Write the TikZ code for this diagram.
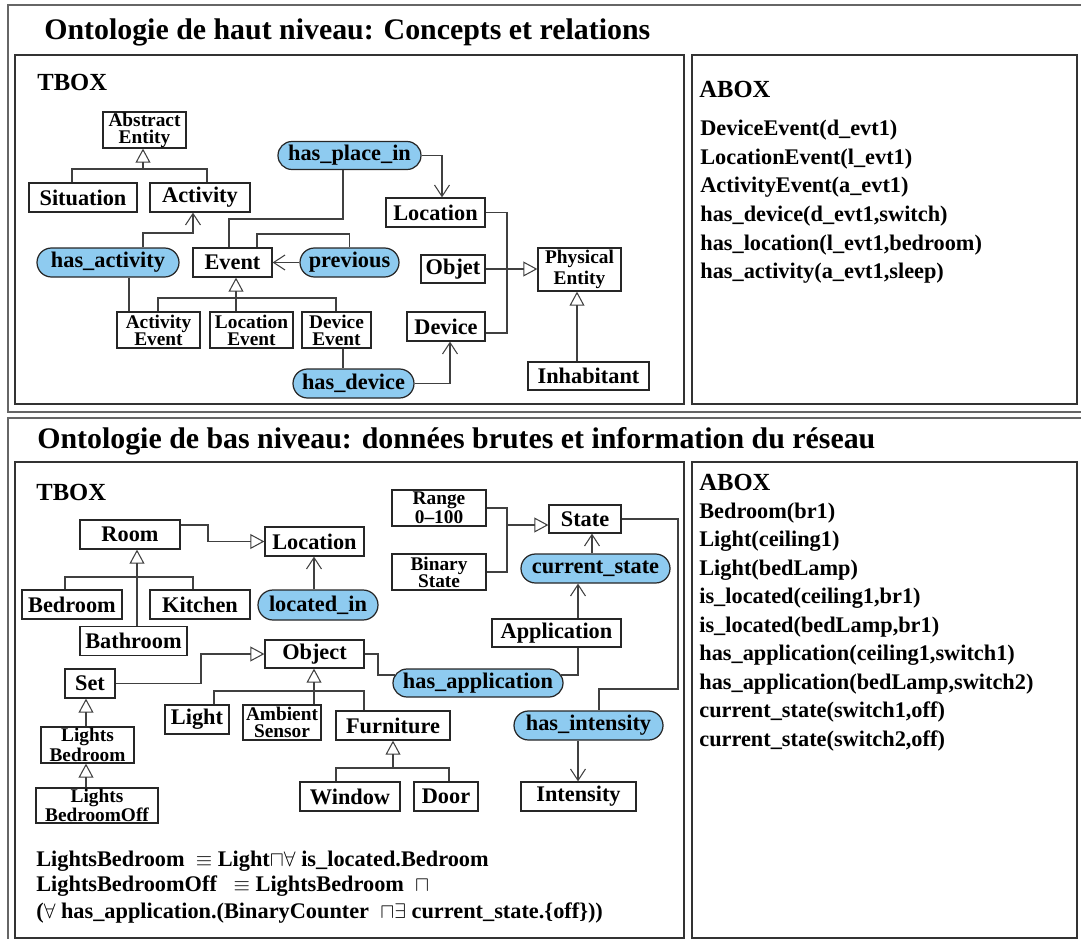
\documentclass[tikz,border=0pt]{standalone}
\usepackage{fontspec}
\setmainfont{Liberation Serif}
\usetikzlibrary{arrows.meta,shapes.misc}
\definecolor{relblue}{RGB}{142,203,240}
\tikzset{
  cls/.style={draw=black!85,line width=0.7pt,fill=white,inner sep=0pt,font=\fontsize{12.7}{14}\selectfont\bfseries},
  cls2/.style={cls,align=center,font=\fontsize{11}{9.8}\selectfont\bfseries},
  rel/.style={cls,rounded rectangle,fill=relblue},
  sz/.style 2 args={minimum width=#1*0.02cm,minimum height=#2*0.02cm},
  conn/.style={draw=black!75,line width=0.6pt},
  gen/.style={conn,-{Triangle[open,length=8pt,width=8.5pt]}},
  assoc/.style={conn,-{Straight Barb[length=6.5pt,width=8.5pt]}},
  outerframe/.style={draw=black!60,line width=1.2pt},
  panel/.style={draw=black!80,line width=0.8pt},
  heading/.style={anchor=base west,inner sep=0pt,font=\fontsize{17}{20}\selectfont\bfseries},
  boxtitle/.style={anchor=base west,inner sep=0pt,font=\fontsize{14}{16}\selectfont\bfseries},
  fact/.style={anchor=base west,inner sep=0pt,font=\fontsize{12.7}{14}\selectfont\bfseries},
}
\begin{document}
\begin{tikzpicture}[x=0.02cm,y=-0.02cm]
\useasboundingbox (0,0) rectangle (1081,939);
\clip (0,0) rectangle (1081,939);
% frames
\draw[outerframe] (8,5) rectangle (1095,412);
\draw[outerframe] (8,418) rectangle (1095,950);
\draw[panel] (15,55) rectangle (684,404);
\draw[panel] (692,55) rectangle (1077,404);
\draw[panel] (15,462) rectangle (684,938);
\draw[panel] (692,462) rectangle (1077,938);
\node[heading] (title1) at (44,40) {Ontologie de haut niveau: Concepts et relations};
\node[heading] (title2) at (37,448) {Ontologie de bas niveau: données brutes et information du réseau};
\node[boxtitle] (tbox1) at (37,91) {TBOX};
\node[boxtitle] (abox1) at (699,98) {ABOX};
\node[boxtitle] (tbox2) at (36,500) {TBOX};
\node[boxtitle] (abox2) at (699,490) {ABOX};
% ABOX facts
\foreach \t [count=\i] in {DeviceEvent(d\_evt1),LocationEvent(l\_evt1),ActivityEvent(a\_evt1),{has\_device(d\_evt1,switch)},{has\_location(l\_evt1,bedroom)},{has\_activity(a\_evt1,sleep)}}
  \node[fact] (fa\i) at (700,{136+28.5*(\i-1)}) {\t};
\foreach \t [count=\i] in {Bedroom(br1),Light(ceiling1),Light(bedLamp),{is\_located(ceiling1,br1)},{is\_located(bedLamp,br1)},{has\_application(ceiling1,switch1)},{has\_application(bedLamp,switch2)},{current\_state(switch1,off)},{current\_state(switch2,off)}}
  \node[fact] (fb\i) at (699,{518+28.5*(\i-1)}) {\t};
% high level TBOX
\node[cls2,sz={83}{36}] (abstract) at (144.5,130) {Abstract\\Entity};
\node[cls,sz={108}{29}] (situation) at (83,197.5) {Situation};
\node[cls,sz={100}{29}] (activity) at (200,197.5) {Activity};
\node[rel,sz={143}{28}] (hasplace) at (349.5,155.5) {has\_place\_in};
\node[cls,sz={99}{29}] (location) at (435.5,212.5) {Location};
\node[cls,sz={79}{29}] (event) at (232.5,262.5) {Event};
\node[rel,sz={99}{29}] (previous) at (349.5,262.5) {previous};
\node[rel,sz={142}{29}] (hasact) at (108,262.5) {has\_activity};
\node[cls2,sz={83}{36}] (actevt) at (158.5,330) {Activity\\Event};
\node[cls2,sz={83}{36}] (locevt) at (251.5,330) {Location\\Event};
\node[cls2,sz={69}{36}] (devevt) at (336.5,330) {Device\\Event};
\node[rel,sz={121}{29}] (hasdev) at (353.5,383.5) {has\_device};
\node[cls,sz={78}{29}] (device) at (446,326.5) {Device};
\node[cls,sz={64}{28}] (objet) at (453,269) {Objet};
\node[cls2,sz={83}{43},font=\fontsize{11}{12}\selectfont\bfseries] (phys) at (579.5,269.5) {Physical\\Entity};
\node[cls,sz={121}{28}] (inhab) at (588.5,376) {Inhabitant};
\coordinate (j1) at (143,169);
\coordinate (j2) at (229,219);
\coordinate (j3) at (257,234);
\coordinate (j4) at (193,233);
\coordinate (j5) at (236,298);
\coordinate (j6) at (507,269);
\draw[conn] (72,0 |- situation.north) |- (j1) -| (207,0 |- activity.north);
\draw[gen] (j1) -- (j1 |- abstract.south);
\draw[conn] (343,0 |- hasplace.south) |- (j2) -- (j2 |- event.north);
\draw[assoc] (hasplace.east) -| (442,0 |- location.north);
\draw[conn] (previous.north) |- (j3) -- (j3 |- event.north);
\draw[assoc] (previous.west) -- (event.east);
\draw[assoc] (143,0 |- hasact.north) |- (j4) -- (j4 |- activity.south);
\draw[conn] (129,0 |- hasact.south) -- (129,0 |- actevt.north);
\draw[conn] (158,0 |- actevt.north) |- (j5) -| (336,0 |- devevt.north);
\draw[gen] (j5 |- locevt.north) -- (j5 |- event.south);
\draw[conn] (343,0 |- devevt.south) -- (343,0 |- hasdev.north);
\draw[assoc] (hasdev.east) -| (450,0 |- device.south);
\draw[conn] (location.east) -| (j6) |- ([yshift=-0.13cm]device.east);
\draw[gen] (objet.east) -- (objet.east -| phys.west);
\draw[gen] (577,0 |- inhab.north) -- (577,0 |- phys.south);
% low level TBOX
\node[cls,sz={100}{29}] (room) at (130,534.5) {Room};
\node[cls,sz={99}{29}] (loc2) at (314.5,541.5) {Location};
\node[cls2,sz={94}{36},font=\fontsize{11}{11}\selectfont\bfseries] (range) at (439,508) {Range\\0--100};
\node[cls2,sz={94}{36}] (binstate) at (439,572) {Binary\\State};
\node[cls,sz={72}{28}] (state) at (585,519) {State};
\node[rel,sz={149}{29}] (curstate) at (595.5,568.5) {current\_state};
\node[cls,sz={100}{29}] (bedroom) at (72,604.5) {Bedroom};
\node[cls,sz={100}{29}] (kitchen) at (200,604.5) {Kitchen};
\node[rel,sz={120}{30}] (locin) at (318,605) {located\_in};
\node[cls,sz={107}{29}] (bathroom) at (133.5,641) {Bathroom};
\node[cls,sz={129}{28}] (appli) at (556.5,633) {Application};
\node[cls,sz={99}{28}] (object) at (314.5,654) {Object};
\node[cls,sz={50}{29}] (set) at (90,683.5) {Set};
\node[rel,sz={170}{28}] (hasappl) at (478,683) {has\_application};
\node[cls,sz={64}{29}] (light) at (197,719.5) {Light};
\node[cls2,sz={78}{35}] (ambient) at (282,722.5) {Ambient\\Sensor};
\node[cls,sz={114}{29}] (furniture) at (393,725.5) {Furniture};
\node[rel,sz={149}{29}] (hasint) at (588.5,725.5) {has\_intensity};
\node[cls2,sz={93}{36}] (lbed) at (87.5,745) {Lights\\Bedroom};
\node[cls2,sz={122}{35}] (lbedoff) at (97,805.5) {Lights\\BedroomOff};
\node[cls,sz={100}{29}] (window) at (350,796.5) {Window};
\node[cls,sz={64}{29}] (door) at (446,796.5) {Door};
\node[cls,sz={115}{29}] (intensity) at (578.5,796.5) {Intensity};
\coordinate (j7) at (208,525);
\coordinate (j8) at (137,577);
\coordinate (j9) at (507,525);
\coordinate (j10) at (578,675);
\coordinate (j11) at (378,675);
\coordinate (j12) at (201,654);
\coordinate (j13) at (314,691);
\coordinate (j14) at (393,768);
\coordinate (j15) at (678,689);
\draw[gen] (j7 -| room.east) -- (j7) |- (loc2.west);
\draw[conn] (65,0 |- bedroom.north) |- (j8) -| (193,0 |- kitchen.north);
\draw[gen] (j8 |- bathroom.north) -- (j8 |- room.south);
\draw[assoc] (314,0 |- locin.north) -- (314,0 |- loc2.south);
\draw[conn] (range.east) -| (binstate.east -| j9) -- (binstate.east);
\draw[gen] (j9) -- (j9 -| state.west);
\draw[assoc] (592,0 |- curstate.north) -- (592,0 |- state.south);
\draw[assoc] (578,0 |- appli.north) -- (578,0 |- curstate.south);
\draw[conn] (j10 |- appli.south) -- (j10) -- ([xshift=-0.05cm]hasappl.east |- j10);
\draw[conn] (object.east) -| (j11) -- ([xshift=0.05cm]hasappl.west |- j11);
\draw[gen] (set.east) -| (j12) -- (object.west);
\draw[gen] (86,0 |- lbed.north) -- (86,0 |- set.south);
\draw[gen] (86,0 |- lbedoff.north) -- (86,0 |- lbed.south);
\draw[conn] (214,0 |- light.north) |- (j13) -| (364,0 |- furniture.north);
\draw[gen] (j13 |- ambient.north) -- (j13 |- object.south);
\draw[conn] (336,0 |- window.north) |- (j14) -| (449,0 |- door.north);
\draw[gen] (j14) -- (j14 |- furniture.south);
\draw[conn] (state.east) -| (j15) -| (599,0 |- hasint.north);
\draw[assoc] (578,0 |- hasint.south) -- (578,0 |- intensity.north);
% axioms
\node[fact] (ax1) at (36,866) {LightsBedroom \ $\equiv$ Light$\sqcap\forall$ is\_located.Bedroom};
\node[fact] (ax2) at (36,891) {LightsBedroomOff \ \ $\equiv$ LightsBedroom \ $\sqcap$};
\node[fact] (ax3) at (36,918) {($\forall$ has\_application.(BinaryCounter \ $\sqcap\exists$ current\_state.\{off\}))};
\end{tikzpicture}
\end{document}
